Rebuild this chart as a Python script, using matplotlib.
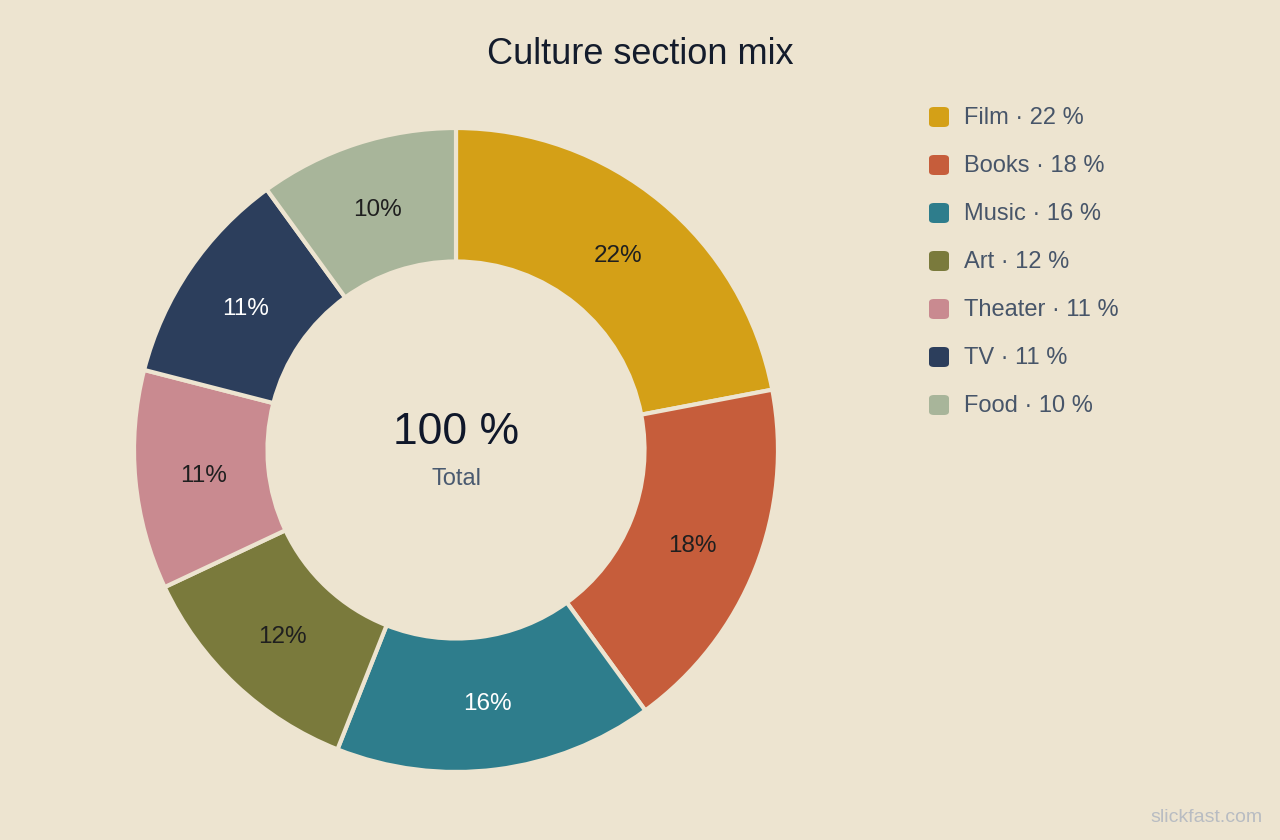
import matplotlib
matplotlib.use("Agg")
import matplotlib.pyplot as plt
from matplotlib.patches import FancyBboxPatch

plt.rcParams['font.family'] = ['Liberation Sans', 'DejaVu Sans']

# --- data ---
categories = ['Film', 'Books', 'Music', 'Art', 'Theater', 'TV', 'Food']
shares = [22, 18, 16, 12, 11, 11, 10]
colors = ['#D4A017', '#C65D3B', '#2E7D8C', '#7A7A3C', '#C98A90', '#2C3E5C', '#A8B59A']
label_colors = ['#1f1f1f', '#1f1f1f', '#ffffff', '#1f1f1f', '#1f1f1f', '#ffffff', '#1f1f1f']

BG = '#EDE4D0'

fig = plt.figure(figsize=(12.8, 8.4), dpi=100)
fig.patch.set_facecolor(BG)

# donut centred at (456, 450) px
cx, cy, r = 456, 450, 324
ax = fig.add_axes([(cx - r) / 1280, 1 - (cy + r) / 840, 2 * r / 1280, 2 * r / 840])
ax.set_facecolor(BG)

wedges, texts = ax.pie(
    shares, colors=colors, startangle=90, counterclock=False, radius=0.9938,
    labels=[f'{v}%' for v in shares], labeldistance=0.789,
    wedgeprops=dict(width=0.412, edgecolor=BG, linewidth=3),
    textprops=dict(fontsize=17.5, ha='center', va='center'),
)
for t, c in zip(texts, label_colors):
    t.set_color(c)
    x, y = t.get_position()
    t.set_position((x, y - 2 / r))

ax.set_xlim(-1, 1)
ax.set_ylim(-1, 1)
ax.set_aspect('equal')
ax.axis('off')

# centre text
ax.text(0, 0.054, '100 %', fontsize=32, color='#0f172a', ha='center', va='center')
ax.text(0, -0.088, 'Total', fontsize=17, color='#4a5a70', ha='center', va='center')

# title
fig.text(640 / 1280, 1 - 55 / 840, 'Culture section mix', fontsize=26,
         color='#141c2c', ha='center', va='center')

# legend drawn by hand
for i, (name, val, col) in enumerate(zip(categories, shares, colors)):
    y = 117 + i * 48
    box = FancyBboxPatch((929 / 1280, 1 - (y + 10) / 840), 20 / 1280, 20 / 840,
                         boxstyle='round,pad=0,rounding_size=0.004',
                         transform=fig.transFigure, facecolor=col, edgecolor='none')
    fig.patches.append(box)
    fig.text(964 / 1280, 1 - (y + 1) / 840, f'{name} · {val} %', fontsize=17,
             color='#475569', ha='left', va='center')

# watermark
fig.text(1263 / 1280, 1 - 818 / 840, 'slickfast.com', fontsize=14,
         color='#b8bcc2', ha='right', va='center')

fig.savefig('out.png', dpi=100, facecolor=BG)
